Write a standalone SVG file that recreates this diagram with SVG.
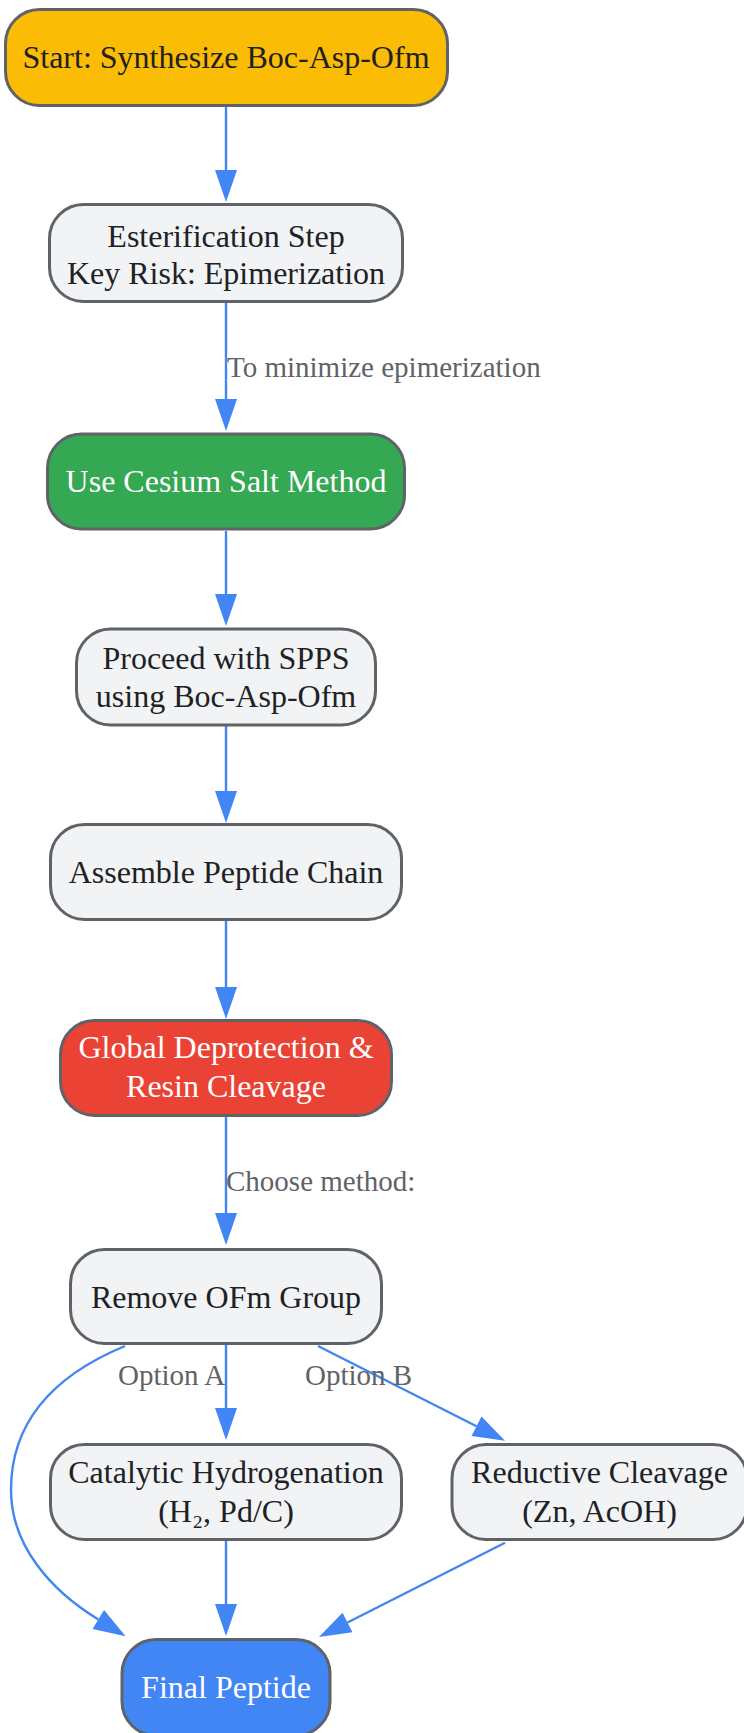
<svg xmlns="http://www.w3.org/2000/svg" width="744" height="1733" viewBox="0 0 744 1733">
<style>
.node rect{stroke:#5F6368;stroke-width:3}
.light{fill:#F1F3F4}
.nt{font-family:"Liberation Serif","Times New Roman",serif;font-size:32px;text-anchor:middle;fill:#202124}
.wt{fill:#FFFFFF}
.edge{fill:none;stroke:#4285F4;stroke-width:2.4}
.el{font-family:"Liberation Serif","Times New Roman",serif;font-size:29px;fill:#5F6368}
</style>
<defs>
<marker id="arr" markerUnits="userSpaceOnUse" markerWidth="32" markerHeight="22" refX="0" refY="11" orient="auto" overflow="visible">
<path d="M0,0 L32,11 L0,22 Z" fill="#4285F4"/>
</marker>
</defs>
<rect width="744" height="1733" fill="#FFFFFF"/>
<g id="connectors">
<path class="edge" d="M226,107 L226,170" marker-end="url(#arr)"/>
<path class="edge" d="M226,303 L226,399" marker-end="url(#arr)"/>
<path class="edge" d="M226,531 L226,594" marker-end="url(#arr)"/>
<path class="edge" d="M226,726 L226,791" marker-end="url(#arr)"/>
<path class="edge" d="M226,921 L226,987" marker-end="url(#arr)"/>
<path class="edge" d="M226,1117 L226,1213" marker-end="url(#arr)"/>
<path class="edge" d="M226,1345 L226,1408" marker-end="url(#arr)"/>
<path class="edge" d="M318,1346 L476.5,1426.2" marker-end="url(#arr)"/>
<path class="edge" d="M125,1346 C55,1375 11,1420 11,1490 C11,1545 50,1590 98.3,1619.5" marker-end="url(#arr)"/>
<path class="edge" d="M226,1541 L226,1604" marker-end="url(#arr)"/>
<path class="edge" d="M505,1542.7 L347.5,1622.5" marker-end="url(#arr)"/>
<text class="el" x="227" y="377">To minimize epimerization</text>
<text class="el" x="226" y="1191">Choose method:</text>
<text class="el" x="118" y="1385">Option A</text>
<text class="el" x="305" y="1385">Option B</text>
</g>
<g id="n-start" class="node">
<rect x="5.5" y="9.5" width="442" height="96" rx="34" fill="#FBBC05"/>
<text class="nt" x="226" y="68">Start: Synthesize Boc-Asp-Ofm</text>
</g>
<g id="n-ester" class="node">
<rect class="light" x="49.5" y="204.5" width="353" height="97" rx="34"/>
<text class="nt" x="226" y="246.5">Esterification Step</text>
<text class="nt" x="226" y="284">Key Risk: Epimerization</text>
</g>
<g id="n-cesium" class="node">
<rect x="47.5" y="434" width="357" height="95" rx="34" fill="#34A853"/>
<text class="nt wt" x="226" y="491.5">Use Cesium Salt Method</text>
</g>
<g id="n-spps" class="node">
<rect class="light" x="76.5" y="629" width="299" height="96" rx="34"/>
<text class="nt" x="226" y="669">Proceed with SPPS</text>
<text class="nt" x="226" y="707">using Boc-Asp-Ofm</text>
</g>
<g id="n-assemble" class="node">
<rect class="light" x="50.5" y="824.5" width="351" height="95" rx="34"/>
<text class="nt" x="226" y="883">Assemble Peptide Chain</text>
</g>
<g id="n-global" class="node">
<rect x="60.5" y="1020.5" width="331" height="95" rx="34" fill="#EA4335"/>
<text class="nt wt" x="226" y="1058">Global Deprotection &amp;</text>
<text class="nt wt" x="226" y="1096.5">Resin Cleavage</text>
</g>
<g id="n-remove" class="node">
<rect class="light" x="70.5" y="1249.5" width="311" height="94" rx="34"/>
<text class="nt" x="226" y="1307.5">Remove OFm Group</text>
</g>
<g id="n-catalytic" class="node">
<rect class="light" x="50.5" y="1444.5" width="351" height="95" rx="34"/>
<text class="nt" x="226" y="1483">Catalytic Hydrogenation</text>
<text class="nt" x="226" y="1521.5">(H₂, Pd/C)</text>
</g>
<g id="n-reductive" class="node">
<rect class="light" x="452" y="1444.5" width="295" height="95" rx="34"/>
<text class="nt" x="599.5" y="1483">Reductive Cleavage</text>
<text class="nt" x="599.5" y="1521.5">(Zn, AcOH)</text>
</g>
<g id="n-final" class="node">
<rect x="122" y="1639.5" width="208" height="96" rx="34" fill="#4285F4"/>
<text class="nt wt" x="226" y="1698">Final Peptide</text>
</g>
</svg>
